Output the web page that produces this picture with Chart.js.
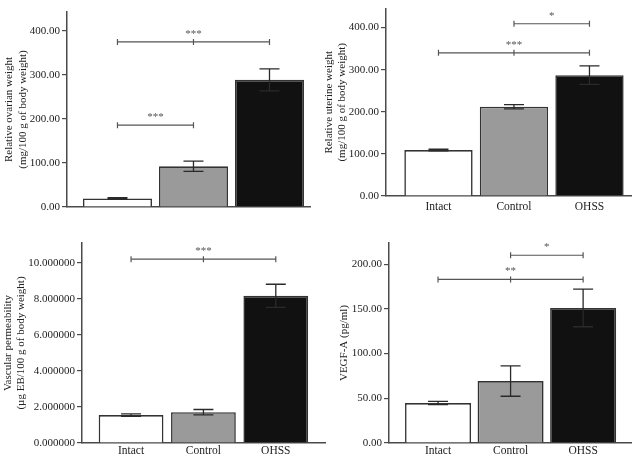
<!DOCTYPE html>
<html>
<head>
<meta charset="utf-8">
<script src="https://cdn.jsdelivr.net/npm/chart.js@4.4.0/dist/chart.umd.min.js"></script>
<style>
  html, body { margin: 0; padding: 0; background: #fff; }
  #wrap { position: relative; width: 632px; height: 456px; overflow: hidden; }
  canvas { position: absolute; }
</style>
</head>
<body>
<div id="wrap">
  <canvas id="ovary" width="316" height="228" style="left:0;top:0"></canvas>
  <canvas id="uterus" width="316" height="228" style="left:316px;top:0"></canvas>
  <canvas id="perm" width="330" height="228" style="left:0;top:228px"></canvas>
  <canvas id="vegf" width="316" height="228" style="left:316px;top:228px"></canvas>
</div>
<script>
// --- data ---
const categories = ['Intact', 'Control', 'OHSS'];

const ovarianMean = [19.5, 92.5, 289];
const ovarianSem = [1.5, 11.5, 25];
const ovarianTicks = [0, 100, 200, 300, 400];
const ovarianSig = [
  { from: 0, to: 1, y: 186, label: '***' },
  { from: 0, to: 2, y: 375, label: '***' }
];

const uterineMean = [109, 212, 287];
const uterineSem = [2, 5, 22];
const uterineTicks = [0, 100, 200, 300, 400];
const uterineSig = [
  { from: 1, to: 2, y: 409, label: '*' },
  { from: 0, to: 2, y: 340, label: '***' }
];

const permMean = [1.55, 1.71, 8.17];
const permSem = [0.07, 0.15, 0.64];
const permTicks = [0, 2, 4, 6, 8, 10];
const permSig = [
  { from: 0, to: 2, y: 10.2, label: '***' }
];

const vegfMean = [44.7, 69.3, 151];
const vegfSem = [1.8, 17, 21];
const vegfTicks = [0, 50, 100, 150, 200];
const vegfSig = [
  { from: 1, to: 2, y: 210, label: '*' },
  { from: 0, to: 2, y: 183, label: '**' }
];

const barColors = ['#ffffff', '#9a9a9a', '#111111'];
const serif = 'Liberation Serif';

// error bars drawn on top of the bars
const errorBars = {
  id: 'errorBars',
  afterDatasetsDraw(chart, args, opts) {
    const { ctx, scales: { y } } = chart;
    const meta = chart.getDatasetMeta(0);
    ctx.save();
    ctx.strokeStyle = '#2a2a2a';
    ctx.lineWidth = 1.3;
    meta.data.forEach((bar, i) => {
      const m = chart.data.datasets[0].data[i].y;
      const top = y.getPixelForValue(m + opts.err[i]);
      const bot = y.getPixelForValue(m - opts.err[i]);
      ctx.beginPath();
      ctx.moveTo(bar.x, top); ctx.lineTo(bar.x, bot);
      ctx.moveTo(bar.x - 10, top); ctx.lineTo(bar.x + 10, top);
      ctx.moveTo(bar.x - 10, bot); ctx.lineTo(bar.x + 10, bot);
      ctx.stroke();
    });
    ctx.restore();
  }
};

// significance brackets with stars
const sigBrackets = {
  id: 'sigBrackets',
  afterDraw(chart, args, opts) {
    const { ctx, scales: { x, y } } = chart;
    ctx.save();
    ctx.strokeStyle = '#555';
    ctx.fillStyle = '#555';
    ctx.lineWidth = 1.2;
    ctx.font = '11px "' + serif + '"';
    ctx.textAlign = 'center';
    ctx.textBaseline = 'bottom';
    opts.items.forEach(b => {
      const py = y.getPixelForValue(b.y);
      const x1 = x.getPixelForValue(b.from);
      const x2 = x.getPixelForValue(b.to);
      ctx.beginPath();
      ctx.moveTo(x1, py); ctx.lineTo(x2, py);
      for (let i = b.from; i <= b.to; i++) {
        const px = x.getPixelForValue(i);
        ctx.moveTo(px, py - 3); ctx.lineTo(px, py + 3);
      }
      ctx.stroke();
      ctx.fillText(b.label, (x1 + x2) / 2, py - 2.5);
    });
    ctx.restore();
  }
};

function makeChart(id, cfg) {
  new Chart(document.getElementById(id), {
    type: 'bar',
    data: {
      datasets: [{
        data: cfg.mean.map((v, i) => ({ x: i, y: v })),
        backgroundColor: barColors,
        borderColor: '#333',
        borderWidth: 1.6,
        barPercentage: cfg.barPct,
        categoryPercentage: 1
      }]
    },
    options: {
      responsive: false,
      animation: false,
      layout: { padding: { top: cfg.padTop, right: cfg.padRight, left: 0, bottom: 0 } },
      plugins: {
        legend: { display: false },
        tooltip: { enabled: false },
        errorBars: { err: cfg.err },
        sigBrackets: { items: cfg.sig }
      },
      scales: {
        x: {
          type: 'linear',
          offset: false,
          min: cfg.xMin,
          max: cfg.xMax,
          afterBuildTicks: s => { s.ticks = categories.map((_, i) => ({ value: i })); },
          afterFit: s => { s.height = cfg.xHeight; },
          grid: { display: false, drawTicks: false },
          border: { color: '#4a4a4a', width: 1.5 },
          ticks: {
            display: cfg.showX,
            padding: cfg.xPad,
            maxRotation: 0,
            autoSkip: false,
            color: '#222',
            font: { family: serif, size: 11.5 },
            callback: v => categories[v]
          }
        },
        y: {
          min: 0,
          max: cfg.yMax,
          afterBuildTicks: s => { s.ticks = cfg.ticks.map(v => ({ value: v })); },
          afterFit: s => { s.width = cfg.yWidth; },
          grid: { drawOnChartArea: false, color: '#4a4a4a', tickLength: 5, lineWidth: 1.2 },
          border: { color: '#4a4a4a', width: 1.5 },
          ticks: {
            padding: 2,
            color: '#222',
            font: { family: serif, size: 11 },
            callback: v => v.toFixed(cfg.decimals)
          },
          title: {
            display: true,
            text: cfg.title,
            color: '#222',
            padding: { top: cfg.titlePad, bottom: 0 },
            font: { family: serif, size: 11, lineHeight: 1.2 }
          }
        }
      }
    },
    plugins: [errorBars, sigBrackets]
  });
}

makeChart('ovary', {
  mean: ovarianMean, err: ovarianSem, ticks: ovarianTicks, sig: ovarianSig,
  title: ['Relative ovarian weight', '(mg/100 g of body weight)'],
  decimals: 2, yMax: 443, yWidth: 67, padTop: 12, padRight: 6,
  xHeight: 21, showX: false, xPad: 4, xMin: -0.664, xMax: 2.533, barPct: 0.908, titlePad: 3
});

makeChart('uterus', {
  mean: uterineMean, err: uterineSem, ticks: uterineTicks, sig: uterineSig,
  title: ['Relative uterine weight', '(mg/100 g of body weight)'],
  decimals: 2, yMax: 445, yWidth: 70, padTop: 0, padRight: 1,
  xHeight: 32, showX: true, xPad: 4, xMin: -0.695, xMax: 2.55, barPct: 0.905, titlePad: 6.5
});

makeChart('perm', {
  mean: permMean, err: permSem, ticks: permTicks, sig: permSig,
  title: ['Vascular permeability', '(\u00b5g EB/100 g of body weight)'],
  decimals: 6, yMax: 11.1, yWidth: 82, padTop: 15, padRight: 5,
  xHeight: 13, showX: true, xPad: 1, xMin: -0.678, xMax: 2.68, barPct: 0.895, titlePad: 1.5
});

makeChart('vegf', {
  mean: vegfMean, err: vegfSem, ticks: vegfTicks, sig: vegfSig,
  title: 'VEGF-A (pg/ml)',
  decimals: 2, yMax: 223.7, yWidth: 73, padTop: 15, padRight: 1,
  xHeight: 13, showX: true, xPad: 1, xMin: -0.676, xMax: 2.66, barPct: 0.91, titlePad: 22
});
</script>
</body>
</html>
